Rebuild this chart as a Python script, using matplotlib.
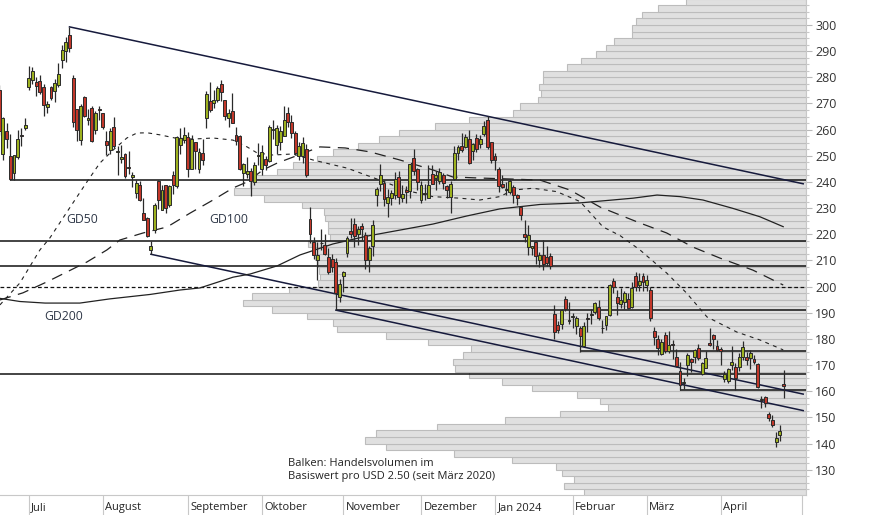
import matplotlib

matplotlib.use("Agg")
import matplotlib.pyplot as plt
from matplotlib.ticker import MultipleLocator
from matplotlib.transforms import blended_transform_factory, offset_copy

plt.rcParams["font.family"] = ["Open Sans", "DejaVu Sans"]

# trading-day index: 0 = 3 July 2023, first candle (-8) = 21 June 2023
first_idx = -8

opens = [
    275.13, 250.77, 259.29, 250.07, 243.24, 249.70, 258.03, 260.60,
    276.49, 278.82, 278.09, 278.43, 276.47, 268.65, 276.33, 274.59, 277.01, 286.63,
    290.15, 296.04, 279.56, 268.00, 255.85, 272.38, 263.66, 268.31, 259.86, 267.48,
    266.26, 255.57, 252.04, 260.97, 251.45, 248.84, 250.87, 245.40, 241.77, 235.70,
    238.73, 228.02, 226.06, 214.12, 221.55, 240.25, 229.34, 238.66, 231.31, 242.58,
    238.58, 254.20, 255.98,
    257.26, 245.00, 255.14, 245.07, 251.22, 264.27, 270.76, 270.07, 271.32, 277.55,
    271.16, 264.35, 267.04, 257.85, 257.40, 243.38, 242.98, 244.26, 240.02, 250.08,
    244.81, 248.61, 248.14, 260.00, 253.98, 255.31, 257.75, 266.20, 262.92, 258.90,
    250.05, 250.10, 252.70, 225.95, 217.01, 210.00, 216.50, 215.88, 211.32, 210.60,
    209.28, 196.12,
    204.04, 212.97, 221.15, 223.98, 219.98, 223.15, 219.75, 210.03, 215.60, 235.03,
    239.29, 239.49, 232.00, 234.04, 235.04, 242.04, 233.75, 236.89, 236.68, 249.21,
    245.14,
    233.14, 235.75, 233.87, 242.92, 241.55, 240.27, 242.74, 238.55, 234.19, 241.22,
    251.21, 253.78, 253.48, 256.41, 251.90, 256.76, 254.49, 258.35, 263.66, 255.10,
    250.08, 244.98, 239.25, 236.86, 236.14, 238.11, 235.10, 230.57, 220.08, 215.10,
    214.86, 216.88, 209.99, 212.26, 211.30, 211.88, 189.70, 185.50, 185.63, 195.33,
    187.00,
    188.50, 185.04, 184.26, 177.21, 188.18, 189.00, 190.18, 192.11, 183.99, 185.30,
    189.16, 202.06, 196.13, 193.36, 194.00, 195.31, 192.29, 204.04, 200.42, 204.18,
    200.52, 198.73, 183.05, 179.99, 174.35, 181.50, 175.45, 177.77, 173.05, 167.77,
    163.16, 170.02, 172.36, 173.00, 176.39, 166.69, 168.76, 178.58, 181.41, 177.45,
    176.17, 164.75, 164.02, 170.07, 169.08, 169.34, 172.91, 173.04, 172.55, 172.34,
    170.24, 156.74, 157.64, 151.25, 148.97, 140.56, 143.33, 162.84,
]
highs = [
    276.99, 265.00, 262.45, 258.37, 250.39, 259.88, 260.74, 264.45,
    284.25, 283.85, 279.97, 280.78, 277.52, 270.90, 276.52, 279.45, 285.30, 292.23,
    295.26, 299.29, 280.93, 268.00, 269.85, 272.90, 268.04, 269.13, 267.25, 269.08,
    266.47, 259.52, 260.49, 264.77, 253.65, 254.03, 250.92, 251.80, 243.79, 240.66,
    240.50, 233.97, 226.74, 217.58, 232.13, 240.82, 238.98, 238.92, 239.00, 244.38,
    257.48, 260.51, 261.18,
    259.08, 258.00, 255.39, 252.81, 256.52, 274.85, 278.39, 274.98, 276.71, 278.98,
    271.44, 267.85, 273.93, 260.86, 257.79, 247.10, 249.55, 245.33, 247.55, 254.77,
    254.28, 250.02, 261.86, 263.60, 261.65, 261.36, 268.94, 268.60, 265.41, 259.60,
    255.40, 257.18, 254.63, 230.61, 218.86, 216.98, 222.05, 220.10, 214.80, 212.41,
    210.88, 202.80,
    205.99, 219.20, 226.37, 226.32, 223.12, 224.15, 220.80, 215.38, 225.40, 238.14,
    246.70, 240.88, 237.39, 237.10, 243.62, 244.01, 238.75, 238.33, 247.00, 252.75,
    245.22,
    240.19, 239.37, 246.66, 246.57, 244.08, 245.27, 243.44, 238.99, 240.30, 253.88,
    254.13, 258.74, 258.34, 259.84, 254.80, 258.22, 257.97, 263.34, 265.13, 255.19,
    251.25, 245.68, 242.70, 240.12, 241.25, 238.96, 235.50, 230.93, 225.34, 223.49,
    215.67, 217.45, 213.19, 217.80, 215.65, 212.73, 193.00, 186.78, 191.48, 196.36,
    193.97,
    189.88, 188.69, 184.81, 186.49, 189.79, 191.62, 194.12, 194.73, 187.26, 188.89,
    200.88, 203.17, 198.60, 199.44, 198.32, 197.57, 201.78, 205.60, 205.30, 205.28,
    204.52, 199.75, 184.59, 181.58, 180.04, 182.73, 182.87, 179.43, 176.05, 171.17,
    165.18, 174.72, 172.82, 176.25, 178.18, 171.20, 175.24, 184.25, 181.91, 179.57,
    176.75, 167.69, 168.82, 177.19, 170.86, 174.50, 179.22, 174.93, 175.88, 173.81,
    170.69, 158.19, 158.33, 152.20, 150.94, 144.44, 147.26, 167.97,
]
lows = [
    257.78, 248.25, 252.80, 240.70, 240.85, 248.89, 253.61, 259.89,
    275.11, 277.60, 272.88, 273.77, 265.10, 266.37, 271.46, 270.60, 276.31, 283.57,
    286.01, 289.52, 261.20, 255.80, 254.12, 265.00, 261.75, 255.30, 258.23, 263.78,
    260.25, 250.49, 250.51, 253.11, 242.76, 247.41, 241.42, 243.13, 238.02, 233.75,
    232.61, 225.38, 218.83, 212.36, 220.58, 229.55, 229.29, 228.18, 230.35, 235.35,
    237.77, 250.59, 255.05,
    242.01, 244.86, 245.06, 243.27, 246.67, 260.61, 266.60, 268.10, 270.42, 271.00,
    263.76, 261.20, 262.46, 254.21, 244.48, 238.31, 241.66, 234.58, 238.65, 246.35,
    242.62, 244.45, 247.60, 256.25, 250.65, 252.05, 257.65, 260.90, 256.63, 250.22,
    248.48, 247.08, 242.08, 216.78, 210.42, 202.51, 214.11, 212.20, 204.88, 205.77,
    191.00, 194.07,
    197.85, 211.45, 218.40, 215.00, 215.72, 217.64, 206.68, 205.69, 211.61, 230.72,
    236.45, 230.96, 226.54, 231.02, 233.34, 231.40, 232.33, 232.10, 234.01, 242.76,
    236.91,
    231.90, 233.29, 233.70, 239.17, 236.98, 239.27, 237.45, 233.87, 228.20, 240.79,
    248.30, 251.36, 253.01, 247.00, 248.55, 251.37, 252.91, 257.52, 252.71, 247.43,
    244.41, 236.32, 237.73, 234.90, 235.30, 232.04, 231.29, 225.37, 217.15, 212.18,
    212.01, 208.74, 207.56, 206.27, 207.75, 206.77, 180.06, 182.10, 183.67, 190.61,
    185.85,
    184.28, 182.00, 175.01, 177.11, 182.68, 185.58, 189.48, 187.28, 182.11, 183.35,
    188.86, 197.40, 189.13, 191.95, 191.36, 191.50, 192.00, 198.26, 198.44, 198.45,
    198.50, 186.72, 177.57, 173.70, 173.70, 174.70, 174.58, 172.41, 169.15, 160.51,
    160.76, 165.90, 167.42, 170.82, 171.80, 166.30, 168.73, 177.38, 176.00, 175.30,
    170.21, 163.43, 163.28, 168.01, 160.51, 167.79, 171.92, 170.01, 168.51, 170.36,
    161.38, 153.75, 153.78, 148.70, 146.22, 138.80, 141.11, 157.51,
]
closes = [
    259.46, 264.61, 256.60, 241.05, 250.21, 256.24, 257.50, 261.77,
    279.82, 282.48, 276.54, 274.43, 269.61, 269.79, 271.99, 277.90, 281.38, 290.38,
    293.34, 291.26, 262.90, 260.02, 269.06, 265.28, 264.35, 255.71, 266.44, 267.43,
    261.07, 254.11, 259.32, 253.86, 251.45, 249.70, 242.19, 245.34, 242.65, 239.76,
    232.96, 225.60, 219.22, 215.49, 231.28, 233.19, 236.86, 230.04, 238.59, 238.82,
    257.18, 256.90, 258.08,
    245.01, 256.49, 251.92, 251.49, 248.50, 273.58, 267.48, 271.30, 276.04, 274.39,
    265.28, 266.50, 262.59, 255.70, 244.88, 246.99, 244.12, 240.50, 246.38, 250.22,
    251.60, 246.53, 261.16, 260.05, 260.53, 259.67, 263.62, 262.99, 258.87, 251.12,
    253.92, 254.85, 242.68, 220.11, 211.99, 212.08, 216.52, 212.42, 205.76, 207.30,
    197.36, 200.84,
    205.66, 218.51, 219.96, 219.27, 222.18, 222.11, 209.98, 214.65, 223.71, 237.41,
    242.84, 233.59, 234.30, 235.60, 241.20, 234.21, 235.45, 236.08, 246.72, 244.14,
    240.08,
    238.83, 235.58, 238.72, 239.37, 242.64, 243.84, 239.74, 237.01, 239.29, 251.05,
    253.50, 252.08, 257.22, 247.14, 254.50, 252.54, 256.61, 261.44, 253.18, 248.48,
    248.42, 238.45, 237.93, 237.49, 240.45, 234.96, 233.94, 227.22, 218.89, 219.91,
    215.55, 211.88, 212.19, 208.80, 209.14, 207.83, 182.63, 183.25, 190.93, 191.59,
    187.29,
    188.86, 187.91, 181.06, 185.10, 187.58, 189.56, 193.57, 188.13, 184.02, 188.71,
    200.45, 199.95, 193.76, 194.77, 197.41, 191.97, 199.40, 199.73, 202.04, 201.88,
    202.64, 188.14, 180.74, 176.54, 178.65, 175.34, 177.77, 177.54, 169.48, 162.50,
    163.57, 173.80, 171.32, 175.66, 172.82, 170.83, 172.63, 177.67, 179.83, 175.79,
    175.22, 166.63, 168.38, 171.11, 164.90, 172.98, 176.88, 171.76, 174.60, 171.05,
    161.48, 157.11, 155.45, 149.93, 147.05, 142.05, 144.68, 162.13,
]

# moving averages (trading-day index, price)
gd50_x = [-7.8, -2.4, 3.0, 5.7, 10.3, 15.7, 19.2, 22.8, 26.5, 29.2, 32.0, 35.5, 39.5,
          44.4, 49.8, 55.2, 59.0, 61.7, 66.0, 71.4, 76.8, 86.0, 94.9, 102.2, 109.2,
          116.5, 121.9, 127.3, 130.9, 136.3, 142.7, 149.0, 155.2, 159.8, 165.2, 172.4,
          177.8, 183.3, 191.4, 197.6, 203.9]
gd50_y = [193.0, 201.4, 214.0, 218.6, 228.5, 240.0, 247.2, 252.2, 256.8, 258.7, 258.8,
          258.0, 256.8, 256.4, 256.8, 256.0, 253.4, 251.1, 250.3, 250.7, 248.4, 245.3,
          240.7, 236.7, 234.4, 233.8, 233.1, 234.4, 236.9, 237.6, 236.3, 232.5, 222.8,
          219.5, 214.0, 205.2, 197.5, 188.4, 182.6, 179.6, 175.8]
gd100_x = [-7.8, -1.6, 4.9, 10.3, 15.7, 21.1, 24.6, 30.9, 37.4, 43.6, 49.8, 55.2, 59.0,
           63.3, 67.1, 71.4, 78.7, 85.5, 92.2, 100.3, 109.2, 114.6, 121.9, 130.9, 138.2,
           146.3, 154.4, 165.2, 172.4, 179.5, 186.8, 195.7, 203.9]
gd100_y = [194.9, 197.6, 201.8, 205.6, 209.4, 214.0, 217.8, 220.5, 222.8, 228.1, 233.1,
           237.7, 240.0, 244.6, 247.2, 249.5, 253.4, 253.0, 251.5, 248.4, 244.6, 241.9,
           241.5, 241.1, 240.7, 236.9, 230.4, 224.3, 220.5, 215.1, 210.9, 206.3, 200.6]
gd200_x = [-7.8, -2.4, 4.4, 13.8, 21.9, 32.8, 40.9, 46.3, 55.2, 59.8, 67.1, 73.3, 82.2,
           91.4, 100.3, 109.2, 118.4, 127.3, 138.2, 149.0, 163.3, 169.8, 176.0, 182.2,
           190.3, 197.6, 203.9]
gd200_y = [195.5, 194.3, 193.7, 193.7, 195.3, 197.0, 198.7, 199.5, 203.6, 204.8, 207.9,
           212.1, 216.3, 219.3, 221.6, 223.9, 227.0, 229.7, 231.4, 232.0, 233.8, 235.0,
           234.4, 233.1, 229.9, 226.7, 222.9]

# horizontal support / resistance lines
level_price = [240.6, 217.4, 207.9, 190.9, 175.4, 166.6, 160.5]
level_start = [-5, -7.8, -7.8, 83, 149, -7.8, 176]
dashed_level = 200.0

# trend channel: start (index, price) -> end (index, price)
trend_x0 = [11, 33, 83]
trend_y0 = [299.29, 212.36, 191.0]
trend_x1 = [209.3, 209.3, 209.3]
trend_y1 = [239.3, 158.9, 152.6]

# volume profile, bins of USD 2.5 (lower edge), relative volume
vol_bins = [120 + 2.5 * i for i in range(76)]
vol_rel = [222, 242, 232, 244, 250, 294, 352, 420, 441, 430, 369, 301, 246, 198, 206,
           229, 274, 304, 337, 351, 353, 343, 335, 378, 420, 469, 473, 499, 534, 563,
           554, 517, 488, 486, 487, 488, 491, 493, 498, 476, 478, 478, 481, 482, 504,
           542, 572, 556, 556, 529, 513, 489, 473, 448, 427, 407, 371, 337, 293, 286,
           268, 265, 267, 263, 263, 239, 225, 210, 200, 192, 174, 174, 170, 164, 148, 120]

month_idx = [0, 20, 43, 63, 85, 106, 126, 147, 167, 187, 209]
month_lbl = ["Juli", "August", "September", "Oktober", "November", "Dezember",
             "Jan 2024", "Februar", "März", "April", ""]

GREEN = "#9db11f"
RED = "#c2372a"
INK = "#2a2a2a"

fig = plt.figure(figsize=(8.74, 5.15), dpi=100)
rect = [0.0, 20 / 515, 805.6 / 874, 495 / 515]
ax_vol = fig.add_axes(rect)
ax = fig.add_axes(rect, sharey=ax_vol)
ax.patch.set_visible(False)

# volume profile (behind)
ax_vol.barh(vol_bins, vol_rel, height=2.5, align="edge", color="#e0e0e0",
            edgecolor="#bcbcbc", linewidth=0.8)
ax_vol.set_xlim(805.6, 0)
ax_vol.set_ylim(120.33, 309.56)
ax_vol.xaxis.set_visible(False)
for side in ("left", "top", "bottom"):
    ax_vol.spines[side].set_visible(False)
ax_vol.spines["right"].set_color("#c8c8c8")
ax_vol.yaxis.tick_right()
ax_vol.set_yticks(range(130, 301, 10))
ax_vol.yaxis.set_minor_locator(MultipleLocator(2.5))
ax_vol.tick_params(axis="y", which="major", length=4, width=0.8, color="#b8b8b8",
                   pad=3, labelsize=9, labelcolor="#333333")
ax_vol.tick_params(axis="y", which="minor", length=2.5, width=0.8, color="#c8c8c8")

# price panel
days = list(range(first_idx, first_idx + len(closes)))
ax.set_xlim(-7.78, 209.95)
ax.yaxis.set_visible(False)
for side in ("left", "top", "right"):
    ax.spines[side].set_visible(False)
ax.spines["bottom"].set_color("#c8c8c8")
ax.set_xticks(month_idx)
ax.set_xticklabels([])
ax.tick_params(axis="x", length=14.4, width=0.8, color="#c8c8c8", direction="out")

right = 209.95
ax.hlines(level_price, level_start, right, colors="#111111", linewidth=1.1, zorder=2)
ax.hlines(dashed_level, -7.8, right, colors="#111111", linewidth=0.9,
          linestyles=(0, (3, 2)), zorder=2)
for x0, y0, x1, y1 in zip(trend_x0, trend_y0, trend_x1, trend_y1):
    ax.plot([x0, x1], [y0, y1], color="#161a3c", linewidth=1.1, zorder=2)

ax.plot(gd50_x, gd50_y, color="#222222", linewidth=0.8, linestyle=(0, (3.5, 4)), zorder=2)
ax.plot(gd100_x, gd100_y, color="#222222", linewidth=0.9, linestyle=(0, (9, 6)), zorder=2)
ax.plot(gd200_x, gd200_y, color="#222222", linewidth=0.9, zorder=2)

# candles
ax.vlines(days, lows, highs, colors=INK, linewidth=0.9, zorder=3)
bottoms = [min(o, c) for o, c in zip(opens, closes)]
heights = [max(abs(c - o), 0.35) for o, c in zip(opens, closes)]
colors = [GREEN if c >= o else RED for o, c in zip(opens, closes)]
ax.bar(days, heights, bottom=bottoms, width=0.78, color=colors, edgecolor=INK,
       linewidth=0.7, zorder=4)

ax.text(14.4, 225.6, "GD50", ha="center", va="center", fontsize=8.8, color="#2f3848")
ax.text(53.9, 225.6, "GD100", ha="center", va="center", fontsize=8.8, color="#2f3848")
ax.text(9.5, 188.5, "GD200", ha="center", va="center", fontsize=8.8, color="#2f3848")

ax.text(288 / 805.6, 25 / 495, "Balken: Handelsvolumen im\nBasiswert pro USD 2.50 (seit März 2020)",
        transform=ax.transAxes, ha="left", va="center", fontsize=8, color="#222222",
        linespacing=1.25)

# month labels right of the separators
trans = blended_transform_factory(ax.transData, ax.transAxes)
trans = offset_copy(trans, fig=fig, x=2.5, y=-12.5, units="dots")
for xi, lbl in zip(month_idx, month_lbl):
    ax.text(xi, 0, lbl, transform=trans, ha="left", va="center", fontsize=8,
            color="#222222")

fig.savefig("out.png", dpi=100)
